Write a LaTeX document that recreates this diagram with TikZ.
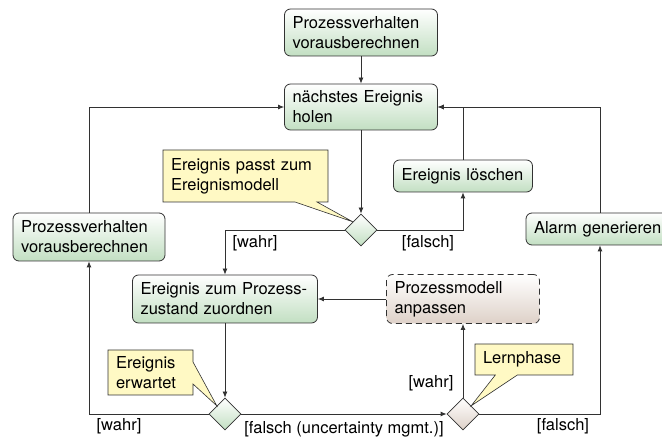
\documentclass[tikz,border=0pt]{standalone}
\usepackage{fontspec}
\setmainfont{TeX Gyre Heros}
\usetikzlibrary{shapes.geometric,shapes.callouts,arrows.meta}
\definecolor{gbot}{RGB}{194,223,194}
\definecolor{bbot}{RGB}{222,209,200}
\definecolor{cfill}{RGB}{255,249,196}
\definecolor{ln}{RGB}{50,50,50}
\begin{document}
\begin{tikzpicture}[x=1pt,y=-1pt,
  every node/.style={font=\fontsize{16.5}{20}\selectfont},
  arr/.style={draw=ln, line width=0.8pt, -{Latex[length=6pt,width=5pt]}},
  actbox/.style={draw=ln, line width=0.8pt, rounded corners=6pt, top color=white, bottom color=gbot,
    inner xsep=8pt, inner ysep=0pt, align=left},
  callbox/.style={rectangle callout, draw=ln, line width=0.6pt, fill=cfill, inner xsep=8pt, inner ysep=0pt,
    align=left, callout pointer width=22pt},
  decision/.style={diamond, draw=ln, line width=0.8pt, minimum width=32pt, minimum height=32pt,
    inner sep=0pt, top color=white, bottom color=gbot},
  lbl/.style={inner sep=0pt}]
\clip (0,0) rectangle (662,438);
\node[actbox, text width=137pt, minimum height=47pt] (top) at (361,32.5) {Prozessverhalten\\vorausberechnen};
\node[actbox, text width=137pt, minimum height=46pt] (next) at (361,107) {nächstes Ereignis\\holen};
\node[actbox, text width=123pt, minimum height=32pt] (del) at (463,176) {Ereignis löschen};
\node[actbox, text width=132pt, minimum height=32pt] (alarm) at (600,229) {Alarm generieren};
\node[actbox, text width=136pt, minimum height=48pt] (left) at (89,237) {Prozessverhalten\\vorausberechnen};
\node[actbox, text width=169pt, minimum height=48pt] (assign) at (225,299) {Ereignis zum Prozess-\\zustand zuordnen};
\node[actbox, dashed, dash pattern=on 6pt off 4pt, bottom color=bbot, text width=137pt, minimum height=49pt] (adapt) at (463,299) {Prozessmodell\\anpassen};
\node[decision] (d1) at (361,230) {};
\node[decision] (d2) at (225,414) {};
\node[decision, bottom color=bbot] (d3) at (463,414) {};
\node[lbl] (l1) at (255,243) {[wahr]};
\node[lbl] (l2) at (428,243) {[falsch]};
\node[lbl] (l3) at (119,426) {[wahr]};
\node[lbl] (l4) at (344,429) {[falsch (uncertainty mgmt.)]};
\node[lbl] (l5) at (431,383) {[wahr]};
\node[lbl] (l6) at (563,426) {[falsch]};
\draw[arr] (top) -- (next);
\draw[arr] (left.north) |- (next.west);
\draw[arr] (alarm.north) |- (next.east);
\draw[arr] (del.north) |- (next.east);
\draw[arr] (next) -- (d1);
\draw[arr] (d1.west) -| (assign.north);
\draw[arr] (d1.east) -| (del.south);
\draw[arr] (assign) -- (d2);
\draw[arr] (d2.west) -| (left.south);
\draw[arr] (d2) -- (d3);
\draw[arr] (d3) -- (adapt);
\draw[arr] (d3.east) -| (alarm.south);
\draw[arr] (adapt) -- (assign);
\node[callbox, text width=149pt, minimum height=52pt, callout absolute pointer={(d1.north west)}] (c1) at (245.5,176) {Ereignis passt zum\\Ereignismodell};
\node[callbox, text width=69pt, minimum height=45pt, callout absolute pointer={(d2.north west)}] (c2) at (150.5,372.5) {Ereignis\\erwartet};
\node[callbox, text width=82pt, minimum height=31pt, callout absolute pointer={(d3.north east)}] (c3) at (524,359.5) {Lernphase};
\end{tikzpicture}
\end{document}
